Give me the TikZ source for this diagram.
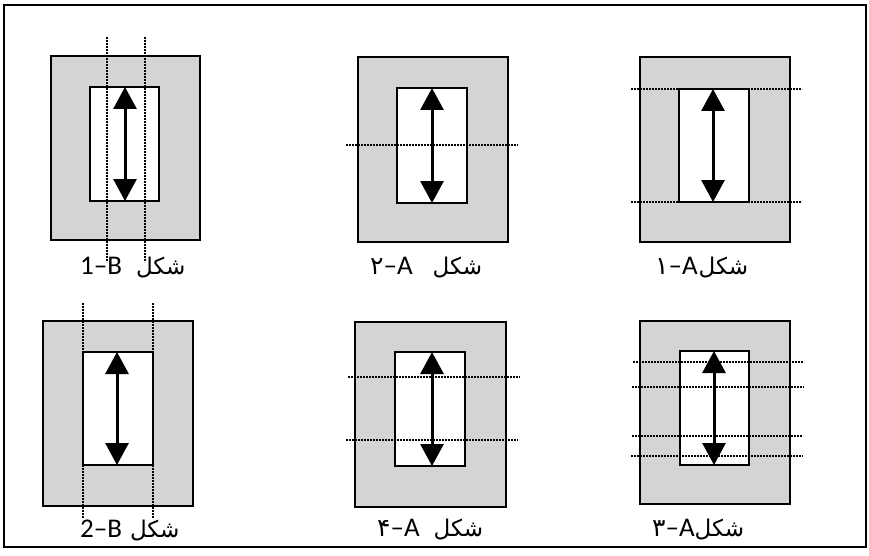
\documentclass[tikz,border=0pt]{standalone}
\usepackage{fontspec}
\setmainfont{Carlito}
\newfontfamily\arabicfont[Script=Arabic]{DejaVu Sans}
\usetikzlibrary{arrows.meta}
\TeXXeTstate=1
\definecolor{panelgray}{RGB}{212,212,212}
\newcommand{\shekl}{{\arabicfont\fontsize{23}{27}\selectfont\beginR شکل\endR}}
\newcommand{\fa}[1]{{\arabicfont\fontsize{25}{29}\selectfont #1}}
\tikzset{
  frame/.style={draw=black, line width=2pt},
  outerbox/.style={draw=black, line width=2pt, fill=panelgray},
  innerbox/.style={draw=black, line width=2pt, fill=white},
  dimarrow/.style={line width=3pt, {Triangle[width=23pt,length=22pt]}-{Triangle[width=23pt,length=22pt]}},
  cutline/.style={line width=2.6pt, draw=black, dash pattern=on 2pt off 1pt},
  lbl/.style={anchor=base west, inner sep=0pt, font=\fontsize{27}{31}\selectfont},
}
\begin{document}
\begin{tikzpicture}[x=1pt,y=-1pt]
\useasboundingbox (0,0) rectangle (869,556);
\draw[frame] (4,5) rectangle (866,547);

% ---- Panel 1-B (top left)
\draw[outerbox] (51,56) rectangle (200,240);
\draw[innerbox] (90,87) rectangle (159,201);
\coordinate (p1t) at (125,87); \coordinate (p1b) at (125,201);
\draw[dimarrow] (p1t) -- (p1b);
\coordinate (p1a1) at (107,37); \coordinate (p1a2) at (107,262);
\coordinate (p1c1) at (145,37); \coordinate (p1c2) at (145,262);
\draw[cutline] (p1a1) -- (p1a2);
\draw[cutline] (p1c1) -- (p1c2);
\node[lbl] (l1) at (80,274) {1–B\hspace{14pt}\shekl};

% ---- Panel 2-A (top middle)
\draw[outerbox] (358,57) rectangle (508,242);
\draw[innerbox] (397,88) rectangle (467,203);
\coordinate (p2t) at (432,88); \coordinate (p2b) at (432,203);
\draw[dimarrow] (p2t) -- (p2b);
\coordinate (p2a1) at (346,145); \coordinate (p2a2) at (518,145);
\draw[cutline] (p2a1) -- (p2a2);
\node[lbl] (l2) at (370,274) {\fa{۲}–A\hspace{20pt}\shekl};

% ---- Panel 1-A (top right)
\draw[outerbox] (640,57) rectangle (790,242);
\draw[innerbox] (679,89) rectangle (749,202);
\coordinate (p3t) at (713,89); \coordinate (p3b) at (713,202);
\draw[dimarrow] (p3t) -- (p3b);
\coordinate (p3a1) at (631,89); \coordinate (p3a2) at (802,89);
\coordinate (p3c1) at (631,202); \coordinate (p3c2) at (802,202);
\draw[cutline] (p3a1) -- (p3a2);
\draw[cutline] (p3c1) -- (p3c2);
\node[lbl] (l3) at (655,274) {\fa{۱}–A\hspace{1pt}\shekl};

% ---- Panel 2-B (bottom left)
\draw[outerbox] (43,321) rectangle (193,506);
\draw[innerbox] (83,352) rectangle (153,465);
\coordinate (p4t) at (117,352); \coordinate (p4b) at (117,465);
\draw[dimarrow] (p4t) -- (p4b);
\coordinate (p4a1) at (83,303); \coordinate (p4a2) at (83,518);
\coordinate (p4c1) at (153,303); \coordinate (p4c2) at (153,518);
\draw[cutline] (p4a1) -- (p4a2);
\draw[cutline] (p4c1) -- (p4c2);
\node[lbl] (l4) at (80,537) {2–B\hspace{8pt}\shekl};

% ---- Panel 4-A (bottom middle)
\draw[outerbox] (355,322) rectangle (506,507);
\draw[innerbox] (395,352) rectangle (465,466);
\coordinate (p5t) at (432,352); \coordinate (p5b) at (432,466);
\draw[dimarrow] (p5t) -- (p5b);
\coordinate (p5a1) at (348,377); \coordinate (p5a2) at (520,377);
\coordinate (p5c1) at (346,440); \coordinate (p5c2) at (518,440);
\draw[cutline] (p5a1) -- (p5a2);
\draw[cutline] (p5c1) -- (p5c2);
\node[lbl] (l5) at (377,536) {\fa{۴}–A\hspace{14pt}\shekl};

% ---- Panel 3-A (bottom right)
\draw[outerbox] (640,321) rectangle (790,504);
\draw[innerbox] (680,351) rectangle (749,465);
\coordinate (p6t) at (714,351); \coordinate (p6b) at (714,465);
\draw[dimarrow] (p6t) -- (p6b);
\coordinate (p6a1) at (633,362); \coordinate (p6a2) at (804,362);
\coordinate (p6c1) at (632,387); \coordinate (p6c2) at (804,387);
\coordinate (p6d1) at (632,436); \coordinate (p6d2) at (803,436);
\coordinate (p6e1) at (631,456); \coordinate (p6e2) at (803,456);
\draw[cutline] (p6a1) -- (p6a2);
\draw[cutline] (p6c1) -- (p6c2);
\draw[cutline] (p6d1) -- (p6d2);
\draw[cutline] (p6e1) -- (p6e2);
\node[lbl] (l6) at (652,536) {\fa{۳}–A\hspace{0pt}\shekl};
\end{tikzpicture}
\end{document}
